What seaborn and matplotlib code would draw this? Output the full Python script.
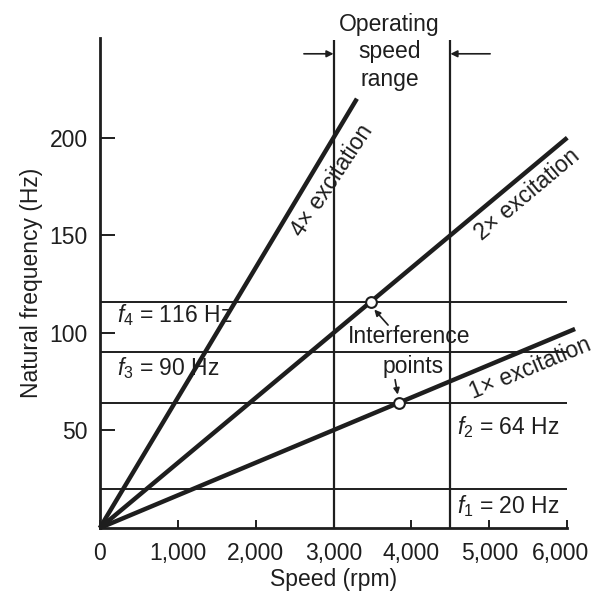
import matplotlib
matplotlib.use("Agg")
import matplotlib.pyplot as plt
import matplotlib.transforms as mtransforms
import seaborn as sns
import pandas as pd

# ---- data ----
orders = ["4×", "2×", "1×"]
line_speed_start = [0, 0, 0]
line_freq_start = [0, 0, 0]
line_speed_end = [3300, 6000, 6100]
line_freq_end = [220, 200, 102]

natural_freqs = [20, 64, 90, 116]
natural_labels = [r"$f_\mathit{1}$ = 20 Hz", r"$f_\mathit{2}$ = 64 Hz",
                  r"$f_\mathit{3}$ = 90 Hz", r"$f_\mathit{4}$ = 116 Hz"]
natural_label_x = [4590, 4590, 220, 220]
natural_label_y = [11.5, 51.5, 82, 109]

operating_range = [3000, 4500]
interference_speed = [3480, 3840]
interference_freq = [116, 64]

xticks = [0, 1000, 2000, 3000, 4000, 5000, 6000]
xtick_labels = ["0", "1,000", "2,000", "3,000", "4,000", "5,000", "6,000"]
yticks = [50, 100, 150, 200]

rows = []
for o, s0, f0, s1, f1 in zip(orders, line_speed_start, line_freq_start, line_speed_end, line_freq_end):
    rows.append({"speed": s0, "freq": f0, "order": o})
    rows.append({"speed": s1, "freq": f1, "order": o})
df = pd.DataFrame(rows)

sns.set_theme(style="ticks")
plt.rcParams["font.family"] = ["Liberation Sans", "DejaVu Sans"]
plt.rcParams["mathtext.fontset"] = "custom"
plt.rcParams["mathtext.rm"] = "Liberation Sans"
plt.rcParams["mathtext.it"] = "Liberation Sans:italic"

fig = plt.figure(figsize=(5.94, 5.93), dpi=100)
ax = fig.add_axes([0.168, 0.1096, 0.787, 0.826])

ink = "#1e1e1e"
FS = 16.5

# natural frequency lines
ax.hlines(natural_freqs, 0, 6000, color=ink, lw=1.4, zorder=2)
# operating range
ax.vlines(operating_range, 0, 250, color=ink, lw=1.6, zorder=2, clip_on=False)

sns.lineplot(data=df, x="speed", y="freq", hue="order", palette=[ink, ink, ink],
             lw=3.2, legend=False, ax=ax, zorder=3, sort=False)
for ln in ax.get_lines():
    ln.set_clip_on(False)
    ln.set_solid_capstyle("butt")

ax.scatter(interference_speed, interference_freq, s=60, facecolor="white",
           edgecolor=ink, linewidth=1.5, zorder=5)

ax.set_xlim(0, 6000)
ax.set_ylim(0, 251)
ax.set_xticks(xticks)
ax.set_xticklabels(xtick_labels)
ax.set_yticks(yticks)
ax.tick_params(direction="in", width=1.4, labelsize=FS, colors=ink)
ax.tick_params(axis="x", length=6, pad=10)
ax.tick_params(axis="y", length=11, pad=8.5)
sns.despine(ax=ax)
for sp in ["left", "bottom"]:
    ax.spines[sp].set_linewidth(2)
    ax.spines[sp].set_color(ink)

# nudge the last x tick label so it stays inside the figure
last = ax.get_xticklabels()[-1]
last.set_transform(last.get_transform() +
                   mtransforms.ScaledTranslation(-0.07, 0, fig.dpi_scale_trans))

ax.set_xlabel("Speed (rpm)", fontsize=FS, color=ink, labelpad=2)
ax.set_ylabel("Natural frequency (Hz)", fontsize=FS, color=ink, labelpad=5)

# labels for natural frequencies
for lab, x, y in zip(natural_labels, natural_label_x, natural_label_y):
    ax.text(x, y, lab, fontsize=FS, color=ink, ha="left", va="center")

# excitation labels
ax.text(2980, 178, "4× excitation", rotation=56.5, fontsize=FS, color=ink,
        ha="center", va="center", rotation_mode="anchor", clip_on=False)
ax.text(5490, 171, "2× excitation", rotation=40, fontsize=FS, color=ink,
        ha="center", va="center", rotation_mode="anchor", clip_on=False)
ax.text(5530, 82, "1× excitation", rotation=22.5, fontsize=FS, color=ink,
        ha="center", va="center", rotation_mode="anchor", clip_on=False)

# operating speed range
ax.text(3720, 244, "Operating\nspeed\nrange", fontsize=FS, color=ink,
        ha="center", va="center", linespacing=1.25, clip_on=False)
ax.annotate("", xy=(3000, 243), xytext=(2620, 243), annotation_clip=False,
            arrowprops=dict(arrowstyle="-|>", color=ink, lw=1.2, mutation_scale=10,
                            shrinkA=0, shrinkB=0))
ax.annotate("", xy=(4500, 243), xytext=(5010, 243), annotation_clip=False,
            arrowprops=dict(arrowstyle="-|>", color=ink, lw=1.2, mutation_scale=10,
                            shrinkA=0, shrinkB=0))

# interference points
ax.text(3970, 98, "Interference", fontsize=FS, color=ink, ha="center", va="center")
ax.text(4020, 83, "points", fontsize=FS, color=ink, ha="center", va="center")
ax.annotate("", xy=(3500, 113), xytext=(3700, 104),
            arrowprops=dict(arrowstyle="-|>", color=ink, lw=1.2, mutation_scale=9,
                            shrinkA=0, shrinkB=2))
ax.annotate("", xy=(3830, 67), xytext=(3790, 76),
            arrowprops=dict(arrowstyle="-|>", color=ink, lw=1.2, mutation_scale=9,
                            shrinkA=0, shrinkB=2))

fig.savefig("out.png", dpi=100, facecolor="white")
